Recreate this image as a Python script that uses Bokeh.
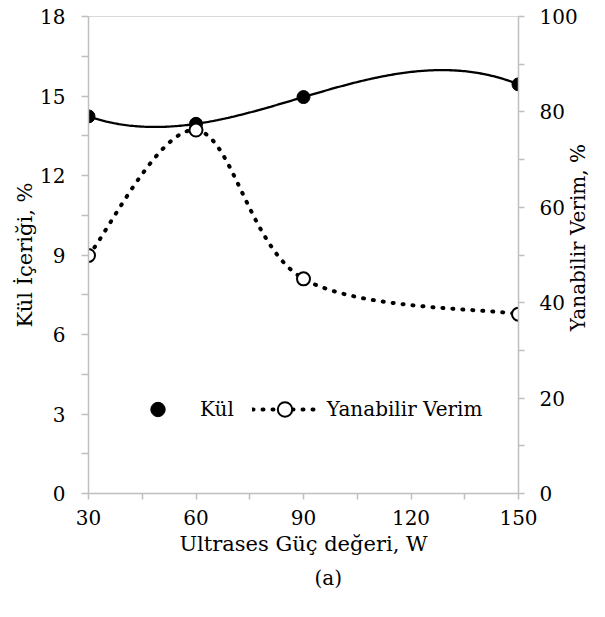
import numpy as np
from bokeh.plotting import figure
from bokeh.models import Range1d, LinearAxis, FixedTicker, Legend, LegendItem, Title
from bokeh.embed import file_html
from bokeh.resources import INLINE

# ---- data ----
power = [30, 60, 90, 150]                 # Ultrases Güç değeri, W
kul = [14.23, 13.95, 14.96, 15.44]        # Kül İçeriği, %
verim = [49.9, 76.2, 45.0, 37.6]          # Yanabilir Verim, %

x_ticks = [30, 60, 90, 120, 150]
x_minor = [45, 75, 105, 135]
left_ticks = [0, 3, 6, 9, 12, 15, 18]
left_minor = [1.5, 4.5, 7.5, 10.5, 13.5, 16.5]
right_ticks = [0, 20, 40, 60, 80, 100]
right_minor = [10, 30, 50, 70, 90]
right_title = "Yanabilir Verim, %"
right_title_start = 34   # where the (upward-reading) right-axis title begins, in % units

FONT = "DejaVu Serif"
GRAY = "#bfbfbf"

# order-3 polynomial trendline through the Kül points
coef = np.polyfit(power, kul, 3)
tx = np.linspace(min(power), max(power), 241)
ty = np.polyval(coef, tx)


# Excel-style smoothed line (Bezier, 1/6 tension)
def smooth(xv, yv, n=60):
    P = np.column_stack([xv, yv]).astype(float)
    E = np.vstack([P[0], P, P[-1]])
    out = []
    t = np.linspace(0, 1, n)[:, None]
    for i in range(len(P) - 1):
        p0, p1, p2, p3 = E[i], E[i + 1], E[i + 2], E[i + 3]
        c1 = p1 + (p2 - p0) / 6.0
        c2 = p2 - (p3 - p1) / 6.0
        seg = (1 - t) ** 3 * p1 + 3 * (1 - t) ** 2 * t * c1 + 3 * (1 - t) * t ** 2 * c2 + t ** 3 * p2
        out.append(seg if i == 0 else seg[1:])
    return np.vstack(out)


sm = smooth(power, verim)

p = figure(width=605, height=617, output_backend="svg", toolbar_location=None,
           x_range=Range1d(30, 150), y_range=Range1d(0, 18),
           min_border_left=88, min_border_right=82, min_border_top=16, min_border_bottom=124)
p.extra_y_ranges = {"verim": Range1d(0, 100)}
p.xgrid.visible = False
p.ygrid.visible = False
p.outline_line_color = "#d9d9d9"
p.outline_line_width = 1
p.background_fill_color = "white"
p.border_fill_color = "white"

p.line(tx, ty, line_color="black", line_width=2.3)
kul_r = p.scatter(power, kul, size=13, marker="circle", fill_color="black", line_color="black")

ver_line = p.line(sm[:, 0], sm[:, 1], y_range_name="verim", line_color="black", line_width=4,
                  line_dash="1 9", line_cap="round")
ver_r = p.scatter(power, verim, y_range_name="verim", size=13, marker="circle",
                  fill_color="white", line_color="black", line_width=2)


def style(ax, ticks, minor, tick_out, standoff):
    ax.ticker = FixedTicker(ticks=ticks, minor_ticks=minor)
    ax.axis_line_color = GRAY
    ax.axis_line_width = 1.5
    ax.major_tick_line_color = GRAY
    ax.minor_tick_line_color = GRAY
    ax.major_tick_line_width = 1.5
    ax.minor_tick_line_width = 1.5
    ax.major_tick_in = 0
    ax.minor_tick_in = 0
    ax.major_tick_out = tick_out
    ax.minor_tick_out = tick_out
    ax.major_label_text_font = FONT
    ax.major_label_text_font_size = "20px"
    ax.major_label_text_color = "black"
    ax.major_label_standoff = standoff
    ax.axis_label_text_font = FONT
    ax.axis_label_text_font_size = "21px"
    ax.axis_label_text_font_style = "normal"
    ax.axis_label_text_color = "black"


xa = p.xaxis[0]
style(xa, x_ticks, x_minor, 6, 10)
xa.axis_label = "Ultrases Güç değeri, W"
xa.axis_label_standoff = 4

ya = p.yaxis[0]
style(ya, left_ticks, left_minor, 7, 16)
ya.axis_label = "Kül İçeriği, %"
ya.axis_label_standoff = 0

ra = LinearAxis(y_range_name="verim")
style(ra, right_ticks, right_minor, 6, 15)
p.add_layout(ra, "right")

# right-axis title, reading bottom-to-top, drawn as the single label of a bare axis
rt = LinearAxis(y_range_name="verim")
rt.ticker = FixedTicker(ticks=[right_title_start], minor_ticks=[])
rt.major_label_overrides = {right_title_start: right_title}
rt.major_label_orientation = float(np.pi / 2)
rt.major_label_standoff = -2
rt.major_label_text_font = FONT
rt.major_label_text_font_size = "20px"
rt.major_label_text_color = "black"
rt.axis_line_color = None
rt.major_tick_line_color = None
rt.minor_tick_line_color = None
rt.major_tick_out = 0
rt.major_tick_in = 0
p.add_layout(rt, "right")

legend = Legend(items=[LegendItem(label="Kül", renderers=[kul_r]),
                       LegendItem(label="Yanabilir Verim", renderers=[ver_line, ver_r])],
                orientation="horizontal", location=(37, 66),
                glyph_width=65, glyph_height=36, label_standoff=10, spacing=18,
                padding=0, margin=0, border_line_color=None, background_fill_alpha=0,
                label_text_font=FONT, label_text_font_size="20px", label_text_color="black")
p.add_layout(legend)

cap = Title(text="(a)", align="left", offset=226, text_font=FONT, text_font_size="20px",
            text_font_style="normal", text_color="black")
p.add_layout(cap, "below")

open("out.html", "w").write(file_html(p, INLINE))
